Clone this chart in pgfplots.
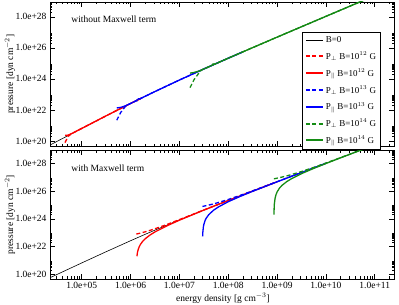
\documentclass[border=0pt]{standalone}
\usepackage{fontspec}
\setmainfont{Liberation Serif}
\usepackage{pgfplots}
\pgfplotsset{compat=1.18}
\definecolor{cred}{RGB}{255,0,0}
\definecolor{cblue}{RGB}{0,0,255}
\definecolor{cgreen}{RGB}{20,140,20}
\tikzset{lgw/.style={line width=2pt}}
\begin{document}
\begin{tikzpicture}
\path[use as bounding box] (-50pt,-26pt) rectangle (349pt,279pt);
% ---------------- bottom panel: with Maxwell term
\begin{axis}[at={(0pt,0pt)}, anchor=south west, height=128.5pt,
    scale only axis, width=344pt,
    xmode=log, ymode=log,
    xmin=2.2387e4, xmax=2.483e11,
    ymin=4.4668e19, ymax=8.9125e28,
    font=\fontsize{9.5}{11}\selectfont,
    tick align=inside,
    major tick length=5pt, minor tick length=2.5pt,
    tick style={black, line width=0.5pt},
    axis line style={black, line width=0.7pt},
    xtick={1e5,1e6,1e7,1e8,1e9,1e10,1e11},
    minor xtick={3e4,4e4,5e4,6e4,7e4,8e4,9e4,2e5,3e5,4e5,5e5,6e5,7e5,8e5,9e5,2e6,3e6,4e6,5e6,6e6,7e6,8e6,9e6,2e7,3e7,4e7,5e7,6e7,7e7,8e7,9e7,2e8,3e8,4e8,5e8,6e8,7e8,8e8,9e8,2e9,3e9,4e9,5e9,6e9,7e9,8e9,9e9,2e10,3e10,4e10,5e10,6e10,7e10,8e10,9e10,2e11},
    ytick={1e20,1e22,1e24,1e26,1e28},
    yticklabels={1.0e+20,1.0e+22,1.0e+24,1.0e+26,1.0e+28},
    minor ytick={2e20,3e20,4e20,5e20,6e20,7e20,8e20,9e20,2e22,3e22,4e22,5e22,6e22,7e22,8e22,9e22,2e24,3e24,4e24,5e24,6e24,7e24,8e24,9e24,2e26,3e26,4e26,5e26,6e26,7e26,8e26,9e26,2e28,3e28,4e28,5e28,6e28,7e28,8e28},
    ylabel={pressure [dyn cm$^{-2}$]},
    ylabel style={at={(axis description cs:-0.116,0.5)}, anchor=center},
  xticklabels={1.0e+05,1.0e+06,1.0e+07,1.0e+08,1.0e+09,1.0e+10,1.0e+11},
  xlabel={energy density [g cm$^{-3}$]},
  xlabel style={at={(axis description cs:0.503,-0.148)}, anchor=center},
]
\addplot[color=black, line width=0.6pt] coordinates {(1e4,1.452e19) (2.2387e4,5.51e19) (3.1623e4,9.766e19) (1e5,6.502e20) (3.1623e5,4.214e21) (1e6,2.627e22) (1.7783e6,6.4193e22) (3.1623e6,1.5418e23) (1e7,8.4596e23) (3.1623e7,4.3622e24) (1e8,2.1502e25) (3.1623e8,1.0305e26) (1e9,4.861e26) (3.1623e9,2.2742e27) (1e10,1.0596e28) (3.1623e10,4.926e28) (1e11,2.288e29)};
\addplot[color=cred, line width=1.3pt, dash pattern=on 4pt off 2.5pt] coordinates {(1.3122e6,7.96e22) (1.5849e6,9.35e22) (1.9953e6,1.1628e23) (2.5119e6,1.4837e23) (3.1623e6,1.9398e23) (5.6234e6,4.008e23) (1e7,8.858e23) (3.1623e7,4.402e24) (1e8,2.154e25) (1e9,4.8614e26)};
\addplot[color=cred, line width=1.3pt] coordinates {(1.349e6,1.98e21) (1.380e6,3.51e21) (1.4125e6,5.07e21) (1.4962e6,9.29e21) (1.5849e6,1.39e22) (1.7783e6,2.439e22) (1.9953e6,3.668e22) (2.5119e6,6.877e22) (3.1623e6,1.1438e23) (5.6234e6,3.212e23) (1e7,8.0616e23) (3.1623e7,4.3224e24) (1e8,2.1462e25) (3.1623e8,1.0301e26) (1e9,4.8606e26)};
\addplot[color=cblue, line width=1.3pt, dash pattern=on 4pt off 2.5pt] coordinates {(2.965e7,7.96e24) (3.1623e7,8.345e24) (3.981e7,9.964e24) (5.0119e7,1.2212e25) (6.3096e7,1.5304e25) (1e8,2.548e25) (1.7783e8,5.108e25) (3.1623e8,1.0703e26) (1e9,4.9008e26) (3.1623e9,2.2782e27) (1e10,1.06e28)};
\addplot[color=cblue, line width=1.3pt] coordinates {(2.992e7,5.43e22) (3.020e7,1.07e23) (3.090e7,2.46e23) (3.1623e7,3.85e23) (3.3497e7,7.47e23) (3.5481e7,1.137e24) (3.981e7,2.004e24) (5.0119e7,4.252e24) (6.3096e7,7.344e24) (1e8,1.752e25) (1.7783e8,4.312e25) (3.1623e8,9.907e25) (1e9,4.821e26) (3.1623e9,2.2702e27) (1e10,1.0592e28)};
\addplot[color=cgreen, line width=1.3pt, dash pattern=on 4pt off 2.5pt] coordinates {(8.6199e8,7.96e26) (1e9,8.841e26) (1.2589e9,1.0602e27) (1.5849e9,1.2996e27) (1.9953e9,1.6254e27) (3.1623e9,2.6722e27) (5.6234e9,5.307e27) (1e10,1.0994e28) (3.1623e10,4.966e28) (1e11,2.292e29)};
\addplot[color=cgreen, line width=1.3pt] coordinates {(8.6497e8,2.0e24) (8.7096e8,5.65e24) (8.8105e8,1.22e25) (9.1201e8,3.17e25) (9.5499e8,5.91e25) (1e9,8.81e25) (1.122e9,1.695e26) (1.2589e9,2.642e26) (1.5849e9,5.036e26) (1.9953e9,8.294e26) (3.1623e9,1.8762e27) (5.6234e9,4.511e27) (1e10,1.0198e28) (3.1623e10,4.886e28) (1e11,2.284e29)};
\node[anchor=west, font=\fontsize{9.5}{11}\selectfont] at (rel axis cs:0.052,0.864) {with Maxwell term};
\end{axis}
% ---------------- top panel: without Maxwell term
\begin{axis}[at={(0pt,132.5pt)}, anchor=south west, height=144.5pt,
    scale only axis, width=344pt,
    xmode=log, ymode=log,
    xmin=2.2387e4, xmax=2.483e11,
    ymin=4.4668e19, ymax=8.9125e28,
    font=\fontsize{9.5}{11}\selectfont,
    tick align=inside,
    major tick length=5pt, minor tick length=2.5pt,
    tick style={black, line width=0.5pt},
    axis line style={black, line width=0.7pt},
    xtick={1e5,1e6,1e7,1e8,1e9,1e10,1e11},
    minor xtick={3e4,4e4,5e4,6e4,7e4,8e4,9e4,2e5,3e5,4e5,5e5,6e5,7e5,8e5,9e5,2e6,3e6,4e6,5e6,6e6,7e6,8e6,9e6,2e7,3e7,4e7,5e7,6e7,7e7,8e7,9e7,2e8,3e8,4e8,5e8,6e8,7e8,8e8,9e8,2e9,3e9,4e9,5e9,6e9,7e9,8e9,9e9,2e10,3e10,4e10,5e10,6e10,7e10,8e10,9e10,2e11},
    ytick={1e20,1e22,1e24,1e26,1e28},
    yticklabels={1.0e+20,1.0e+22,1.0e+24,1.0e+26,1.0e+28},
    minor ytick={2e20,3e20,4e20,5e20,6e20,7e20,8e20,9e20,2e22,3e22,4e22,5e22,6e22,7e22,8e22,9e22,2e24,3e24,4e24,5e24,6e24,7e24,8e24,9e24,2e26,3e26,4e26,5e26,6e26,7e26,8e26,9e26,2e28,3e28,4e28,5e28,6e28,7e28,8e28},
    ylabel={pressure [dyn cm$^{-2}$]},
    ylabel style={at={(axis description cs:-0.116,0.5)}, anchor=center},
  xticklabels={},
  legend cell align=left,
  legend image code/.code={\draw[#1, lgw] (0pt,0pt) -- (17pt,0pt);},
  legend style={at={(rel axis cs:0.733,0.792)}, anchor=north west,
    font=\fontsize{9}{10}\selectfont, row sep=3.6pt, inner sep=2.5pt},
]
\addplot[color=black, line width=0.6pt, lgw/.style={line width=1.1pt}] coordinates {(1e4,1.452e19) (2.2387e4,5.51e19) (3.1623e4,9.766e19) (1e5,6.502e20) (3.1623e5,4.214e21) (1e6,2.627e22) (1.7783e6,6.4193e22) (3.1623e6,1.5418e23) (1e7,8.4596e23) (3.1623e7,4.3622e24) (1e8,2.1502e25) (3.1623e8,1.0305e26) (1e9,4.861e26) (3.1623e9,2.2742e27) (1e10,1.0596e28) (3.1623e10,4.926e28) (1e11,2.288e29)};
\addlegendentry{B=0}
\addplot[color=cred, line width=1.3pt, dash pattern=on 4pt off 2.5pt] coordinates {(4.5499e4,7.94e19) (5.2481e4,1.995e20) (6.3096e4,3.05e20) (1e5,6.502e20) (3.1623e5,4.214e21) (1e6,2.627e22) (1.6982e6,5.97e22)};
\addlegendentry{P$_\perp$ B=10$^{12}$ G}
\addplot[color=cred, line width=1.3pt] coordinates {(4.5499e4,2.344e20) (5.2481e4,2.41e20) (6.3096e4,3.1e20) (1e5,6.502e20) (3.1623e5,4.214e21) (1e6,2.627e22) (1.6982e6,5.97e22)};
\addlegendentry{P$_\|$ B=10$^{12}$ G}
\addplot[color=cblue, line width=1.3pt, dash pattern=on 4pt off 2.5pt] coordinates {(5.2119e5,2.188e21) (6.3096e5,7.08e21) (7.709e5,1.585e22) (8.9125e5,2.186e22) (1e6,2.627e22) (1.3183e6,4.03e22) (1.4125e6,3.733e22) (1.5849e6,5.370e22) (3.1623e6,1.5418e23) (1e7,8.4596e23) (3.1623e7,4.3622e24) (1e8,2.1502e25) (1.9953e8,5.508e25)};
\addlegendentry{P$_\perp$ B=10$^{13}$ G}
\addplot[color=cblue, line width=1.3pt] coordinates {(5.2119e5,1.349e22) (6.3096e5,1.479e22) (7.709e5,1.82e22) (1e6,2.627e22) (1.3183e6,4.03e22) (1.4454e6,5.21e22) (1.5849e6,5.370e22) (3.1623e6,1.5418e23) (1e7,8.4596e23) (3.1623e7,4.3622e24) (1e8,2.1502e25) (1.9953e8,5.508e25)};
\addlegendentry{P$_\|$ B=10$^{13}$ G}
\addplot[color=cgreen, line width=1.3pt, dash pattern=on 4pt off 2.5pt] coordinates {(1.652e7,2.754e23) (1.9953e7,8.913e23) (2.4434e7,2.138e24) (2.8184e7,3.707e24) (3.1623e7,4.3622e24) (1e8,2.1502e25) (3.1623e8,1.0305e26) (1e9,4.861e26) (3.1623e9,2.2742e27) (1e10,1.0596e28) (3.1623e10,4.926e28) (1e11,2.288e29)};
\addlegendentry{P$_\perp$ B=10$^{14}$ G}
\addplot[color=cgreen, line width=1.3pt] coordinates {(1.652e7,2.344e24) (1.9953e7,2.6e24) (2.6303e7,3.357e24) (3.1623e7,4.3622e24) (4.6774e7,7.516e24) (4.8978e7,9.2e24) (5.2481e7,8.772e24) (1e8,2.1502e25) (3.1623e8,1.0305e26) (1e9,4.861e26) (3.1623e9,2.2742e27) (1e10,1.0596e28) (3.1623e10,4.926e28) (1e11,2.288e29)};
\addlegendentry{P$_\|$ B=10$^{14}$ G}
\node[anchor=west, font=\fontsize{9.5}{11}\selectfont] at (rel axis cs:0.052,0.882) {without Maxwell term};
\end{axis}
\end{tikzpicture}
\end{document}
